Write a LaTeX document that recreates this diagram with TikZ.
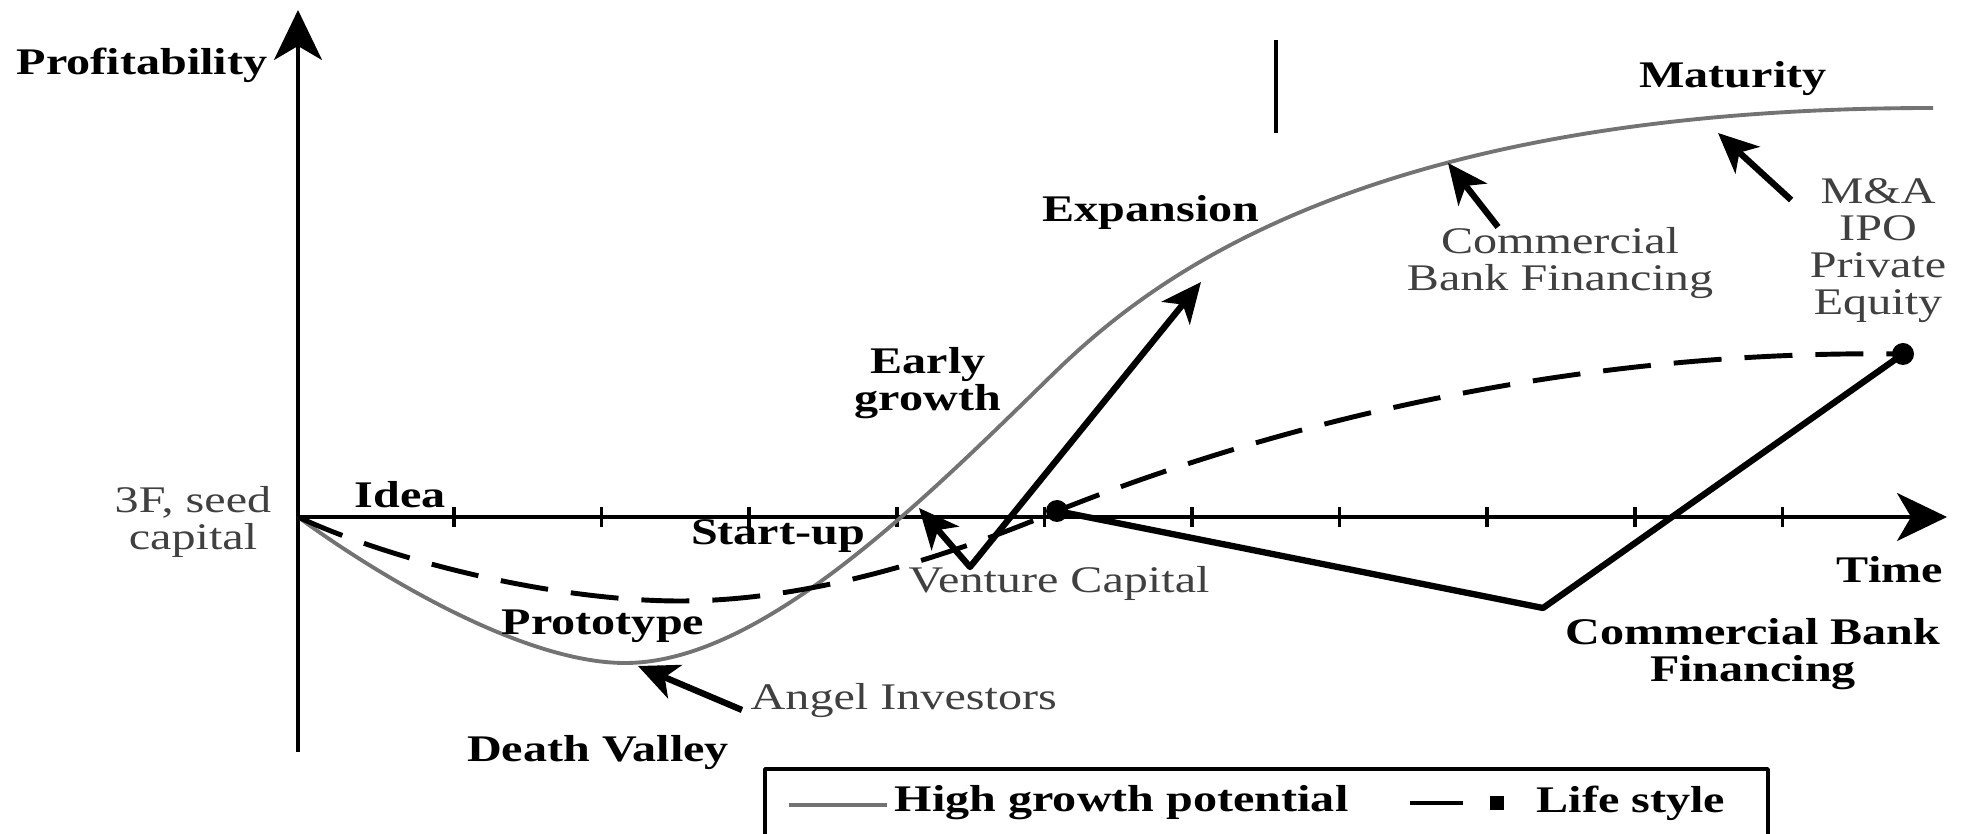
\documentclass[tikz,border=0pt]{standalone}
\usepackage{fontspec}
\setmainfont{Liberation Serif}[FakeStretch=1.28]
\usepackage{tikz}
\usetikzlibrary{arrows.meta}

\newcommand{\chartfont}{\fontsize{10.7}{10.5}\selectfont}

\begin{document}
\begin{tikzpicture}[>={Stealth[length=4mm, width=3.6mm, inset=1.1mm]},
  stage/.style ={font=\chartfont\bfseries, inner sep=0pt, align=center},
  %
  source/.style ={font=\chartfont, text=black!75, inner sep=0pt,
    align=center},
  %
  axis/.style ={line width=1pt, -{Stealth[length=5mm, width=4.8mm, inset=1.4mm]}},
  growth/.style ={draw=black!55, line width=1.1pt},
  lifestyle/.style ={line width=1.4pt, dash pattern=on 4.8mm off 2.3mm},
  funding/.style ={line width=1.8pt},
  dot/.style ={circle, fill=black, inner sep=0pt, minimum size=2.2mm} ]

  \tikzset{every path/.style={line join=round}}
  \useasboundingbox (0,0) rectangle (19.62,8.34);

  \begin{scope}
    %%%%%%%%%%%%%%%%%%%%%%%%%%%%%%% axes
    \coordinate (O) at (2.98,3.17);
    \coordinate (ybot) at (2.98,0.82);
    \coordinate (ytop) at (2.98,8.24);
    \coordinate (xend) at (19.47,3.17);
    \draw [axis] (ybot) -- (ytop);
    \draw [axis] (O) -- (xend);
    \foreach \k in {0,...,9}
      \draw [line width=1pt] ({4.54+1.476*\k},3.07) -- ++(0,0.2);
    \draw [line width=1pt] (12.76,7.01) -- (12.76,7.94);
  \end{scope}

  \begin{scope}
    %%%%%%%%%%%%%%%%%%%%%%%%%%%%%%% curves
    \node [dot] (lsmid) at (10.57,3.23) {};
    \node [dot] (lsend) at (19.03,4.80) {};
    \draw [growth] (O) .. controls (3.7,2.64) and (5.2,1.71) .. (6.25,1.71)
      .. controls (7.6,1.71) and (9.2,3.3) .. (10.5,4.57)
      .. controls (11.4,5.45) and (13.5,7.26) .. (19.33,7.26);
    \draw [lifestyle] (O) .. controls (4.0,2.7) and (5.6,2.33) .. (6.8,2.33)
      .. controls (8.0,2.33) and (9.3,2.7) .. (lsmid.center)
      .. controls (12.5,4.0) and (15.5,4.85) .. (lsend.center);
  \end{scope}

  \begin{scope}
    %%%%%%%%%%%%%%%%%%%%%%%%%%%%%%% stages
    \node [stage, anchor=base] (profit) at (1.42,7.59) {Profitability};
    \node [stage, anchor=base] (idea) at (4.00,3.26) {Idea};
    \node [stage, anchor=base] (startup) at (7.78,2.89) {Start-up};
    \node [stage, anchor=base] (proto) at (6.03,1.99) {Prototype};
    \node [stage, anchor=base] (death) at (5.98,0.72) {Death Valley};
    \node [stage, anchor=north] (early) at (9.28,4.87) {Early\\growth};
    \node [stage, anchor=base] (expansion) at (11.51,6.12) {Expansion};
    \node [stage, anchor=base] (maturity) at (17.33,7.46) {Maturity};
    \node [stage, anchor=base] (time) at (18.90,2.51) {Time};
    \node [stage, anchor=north] (cblow) at (17.53,2.16)
      {Commercial Bank\\Financing};
    %%%%%%%%%%%%%%%%%%%%%%%%%%%%%%% sources of money
    \node [source, anchor=north] (seed) at (1.93,3.48) {3F, seed\\capital};
    \node [source, anchor=base west] (angel) at (7.50,1.24) {Angel Investors};
    \node [source, anchor=base west] (venture) at (9.08,2.41)
      {Venture Capital};
    \node [source, anchor=north] (cbup) at (15.60,6.07)
      {Commercial\\Bank Financing};
    \node [source, anchor=north] (exit) at (18.78,6.56)
      {M\&A\\IPO\\Private\\Equity};
  \end{scope}

  \begin{scope}
    \coordinate (aitip) at (6.38,1.68);
    \coordinate (vctip) at (9.19,3.26);
    \coordinate (vcv) at (9.70,2.67);
    \coordinate (vctop) at (12.01,5.52);
    \coordinate (cbtip) at (14.48,6.71);
    \coordinate (extip) at (17.18,7.01);
    \coordinate (cbv) at (15.43,2.26);
    \draw [funding, ->] ([xshift=-0.8mm]angel.base west) -- (aitip);
    \draw [funding, <->] (vctip) -- (vcv) -- (vctop);
    \draw [funding, ->] ([xshift=-6.2mm]cbup.north) -- (cbtip);
    \draw [funding, ->] ([xshift=-1.8mm, yshift=-2.2mm]exit.north west)
      -- (extip);
    \draw [funding] (lsmid.center) -- (cbv) -- (lsend.center);
  \end{scope}

  \begin{scope}
    %%%%%%%%%%%%%%%%%%%%%%%%%%%%%%% legend
    \draw [line width=1pt] (7.65,-0.3) rectangle (17.68,0.65);
    \draw [growth] (7.89,0.29) -- (8.87,0.29);
    \node [stage, anchor=west] (lghigh) at (8.94,0.31)
      {High growth potential};
    \draw [line width=1pt] (14.10,0.31) -- (14.63,0.31);
    \node [fill, inner sep=0pt, minimum size=1.4mm] (lgsq) at (14.97,0.31) {};
    \node [stage, anchor=west] (lglife) at (15.36,0.31) {Life style};
  \end{scope}

\end{tikzpicture}
\end{document}
